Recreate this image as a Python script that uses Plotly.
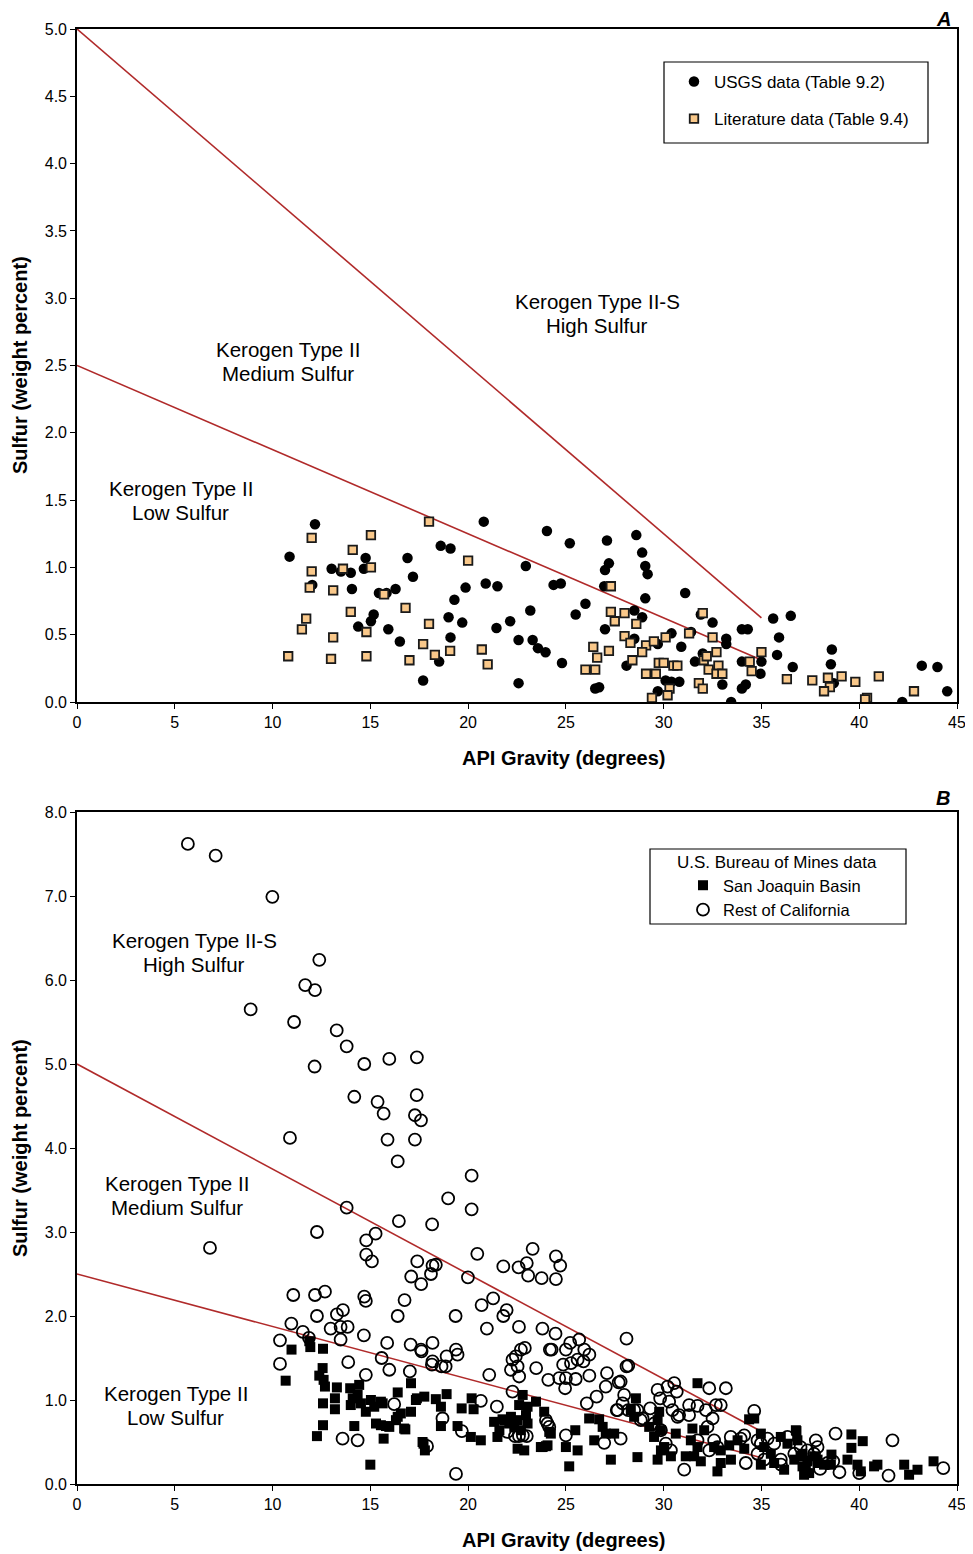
import plotly.graph_objects as go

# ---------------- Panel A data ----------------
usgs_api = [10.87, 12.17, 12.03, 13.02, 13.5, 14.0, 14.76, 14.67, 14.06, 15.44, 15.83, 16.29, 16.9, 17.18,
            15.17, 15.03, 14.38, 15.92, 16.51, 17.7, 18.52, 18.6, 19.1, 20.8, 19.87, 19.3, 20.9, 21.5,
            19.0, 19.7, 19.1, 21.45, 22.15, 22.58, 22.58, 24.03, 25.2, 27.1, 28.6, 28.9, 29.06, 29.18,
            27.2, 27.0, 22.95, 24.37, 24.74, 26.96, 29.06, 31.1, 26.0, 25.5, 23.18, 23.3, 23.57, 23.96,
            24.8, 26.5, 26.7, 28.1, 27.0, 28.5, 28.9, 28.5, 29.7, 30.4, 30.9, 31.4, 31.9, 32.5, 33.2,
            33.2, 34.0, 34.3, 31.6, 32.0, 34.0, 29.7, 30.1, 30.4, 30.8, 33.0, 34.0, 34.2, 33.45, 35.6,
            36.5, 35.9, 35.8, 35.0, 34.95, 36.6, 38.6, 38.55, 38.7, 43.2, 44.0, 44.5, 42.2]
usgs_s = [1.08, 1.32, 0.87, 0.99, 0.97, 0.96, 1.07, 0.99, 0.84, 0.81, 0.81, 0.84, 1.07, 0.93,
          0.65, 0.60, 0.56, 0.54, 0.45, 0.16, 0.30, 1.16, 1.14, 1.34, 0.85, 0.76, 0.88, 0.86,
          0.63, 0.59, 0.48, 0.55, 0.60, 0.46, 0.14, 1.27, 1.18, 1.20, 1.24, 1.11, 1.01, 0.95,
          1.03, 0.98, 1.01, 0.87, 0.88, 0.86, 0.77, 0.81, 0.73, 0.65, 0.68, 0.46, 0.40, 0.37,
          0.29, 0.10, 0.11, 0.27, 0.54, 0.68, 0.63, 0.47, 0.43, 0.51, 0.41, 0.52, 0.65, 0.59, 0.47,
          0.43, 0.54, 0.54, 0.30, 0.36, 0.30, 0.08, 0.16, 0.15, 0.15, 0.13, 0.10, 0.13, 0.0, 0.62,
          0.64, 0.48, 0.35, 0.30, 0.21, 0.26, 0.39, 0.28, 0.14, 0.27, 0.26, 0.08, 0.0]

lit_api = [12.0, 15.03, 18.0, 14.1, 12.0, 13.6, 15.03, 11.9, 13.1, 15.7, 20.0, 14.0, 16.8, 11.72, 11.5,
           13.1, 14.8, 18.0, 17.7, 18.3, 19.08, 17.0, 10.8, 12.99, 14.8, 20.7, 21.0, 27.3, 27.3, 27.5,
           28.0, 28.6, 28.0, 28.3, 29.1, 29.5, 30.1, 28.9, 26.4, 27.2, 26.6, 28.4, 26.0, 26.5, 29.75,
           30.0, 30.5, 30.7, 29.1, 29.6, 30.3, 30.2, 29.4, 31.3, 32.0, 32.5, 32.7, 32.05, 32.2, 32.8,
           32.3, 32.7, 33.0, 31.8, 32.0, 34.4, 34.5, 35.0, 36.3, 37.6, 38.4, 38.5, 38.2, 39.1, 39.8,
           41.0, 40.4, 40.3, 42.8]
lit_s = [1.22, 1.24, 1.34, 1.13, 0.97, 0.99, 1.00, 0.85, 0.83, 0.80, 1.05, 0.67, 0.70, 0.62, 0.54,
         0.48, 0.52, 0.58, 0.43, 0.35, 0.38, 0.31, 0.34, 0.32, 0.34, 0.39, 0.28, 0.86, 0.67, 0.60,
         0.66, 0.58, 0.49, 0.44, 0.42, 0.45, 0.48, 0.37, 0.41, 0.38, 0.33, 0.31, 0.24, 0.24, 0.29,
         0.29, 0.27, 0.27, 0.21, 0.21, 0.10, 0.05, 0.03, 0.51, 0.66, 0.48, 0.37, 0.31, 0.34, 0.27,
         0.24, 0.21, 0.21, 0.14, 0.10, 0.30, 0.23, 0.37, 0.17, 0.16, 0.18, 0.11, 0.08, 0.19, 0.15,
         0.19, 0.03, 0.02, 0.08]

# ---------------- Panel B data ----------------
rest_api = [5.67, 7.09, 9.99, 12.39, 11.67, 12.17, 8.88, 11.1, 13.28, 13.79, 12.15, 14.69, 15.97, 17.38,
            14.18, 15.37, 15.68, 17.37, 17.28, 17.59, 15.88, 17.28, 10.89, 16.4, 6.8, 20.18, 18.98, 20.18,
            13.79, 16.46, 18.16, 12.27, 15.27, 14.79, 14.79, 15.08, 20.47, 17.4, 18.18, 18.35, 18.1, 17.09,
            17.6, 19.99, 21.8, 22.58, 23.0, 23.07, 23.3, 23.76, 24.49, 24.71, 24.49, 11.06, 12.17, 12.68,
            14.69, 14.77, 16.75, 16.4, 12.27, 13.29, 13.6, 19.36, 20.69, 21.28, 21.8, 21.97, 20.96, 22.6,
            23.8, 24.47, 10.96, 11.55, 11.86, 12.97, 13.48, 13.84, 13.48, 14.67, 10.38, 10.38, 13.87, 14.77,
            15.86, 15.58, 15.97, 17.02, 17.06, 17.59, 17.62, 18.18, 18.18, 18.15, 18.64, 18.85, 18.9, 19.38,
            19.46, 21.08, 20.65, 21.47, 16.22, 18.69, 19.68, 13.58, 14.35, 17.9, 19.38, 22.27, 22.19, 22.53,
            22.7, 22.44, 22.61, 22.27, 22.9, 23.48, 24.1, 24.18, 22.0, 22.4, 22.6, 22.8, 23.0, 24.06, 24.27,
            25.0, 25.22, 25.68, 25.94, 26.2, 25.6, 25.9, 25.26, 24.86, 24.66, 25.0, 25.5, 26.2, 24.96, 27.1,
            27.04, 27.7, 27.98, 26.57, 26.07, 28.1, 28.1, 27.6, 27.9, 25.0, 26.96, 27.8, 23.98, 24.15, 28.49,
            28.92, 29.31, 29.69, 29.82, 30.2, 30.54, 30.67, 30.28, 30.45, 30.79, 31.3, 31.3, 31.73, 32.16,
            32.5, 32.67, 32.92, 32.33, 33.18, 34.63, 31.05, 32.58, 33.43, 33.94, 34.8, 35.31, 36.33, 37.78,
            32.75, 34.2, 31.73, 32.33, 29.51, 29.86, 30.11, 30.37, 27.64, 28.19, 28.66, 28.83, 30.71, 32.24,
            34.12, 34.97, 34.8, 35.14, 35.65, 35.99, 36.68, 37.0, 37.35, 37.69, 37.87, 38.38, 38.79, 41.7,
            44.3, 41.5, 40.0, 38.99, 38.0, 38.67, 28.19, 27.8, 36.0]
rest_s = [7.62, 7.48, 6.99, 6.24, 5.94, 5.88, 5.65, 5.50, 5.40, 5.21, 4.97, 5.00, 5.06, 5.08,
          4.61, 4.55, 4.41, 4.63, 4.39, 4.33, 4.10, 4.10, 4.12, 3.84, 2.81, 3.67, 3.40, 3.27,
          3.29, 3.13, 3.09, 3.00, 2.98, 2.90, 2.73, 2.65, 2.74, 2.65, 2.60, 2.61, 2.50, 2.47,
          2.38, 2.46, 2.59, 2.58, 2.63, 2.48, 2.80, 2.45, 2.71, 2.60, 2.44, 2.25, 2.25, 2.29,
          2.23, 2.18, 2.19, 2.00, 2.00, 2.02, 2.07, 2.00, 2.13, 2.21, 2.00, 2.07, 1.85, 1.87,
          1.85, 1.79, 1.91, 1.81, 1.74, 1.85, 1.87, 1.87, 1.72, 1.77, 1.71, 1.43, 1.45, 1.30,
          1.68, 1.50, 1.36, 1.34, 1.66, 1.60, 1.58, 1.68, 1.46, 1.42, 1.40, 1.40, 1.52, 1.60,
          1.54, 1.30, 0.99, 0.92, 0.95, 0.78, 0.63, 0.54, 0.52, 0.45, 0.12, 1.48, 1.36, 1.40,
          1.60, 1.52, 1.28, 1.10, 1.62, 1.38, 1.24, 1.60, 0.62, 0.57, 0.57, 0.58, 0.57, 0.72, 1.60,
          1.60, 1.68, 1.72, 1.60, 1.54, 1.48, 1.46, 1.44, 1.42, 1.26, 1.26, 1.25, 1.29, 1.14, 1.32,
          1.16, 1.21, 1.06, 1.04, 0.96, 1.40, 1.73, 0.88, 0.96, 0.58, 0.49, 0.54, 0.76, 0.68, 0.88,
          0.78, 0.90, 1.12, 1.02, 1.16, 1.20, 1.10, 0.98, 0.88, 0.82, 0.94, 0.82, 0.93, 0.88,
          0.78, 0.94, 0.94, 1.14, 1.14, 0.87, 0.17, 0.52, 0.56, 0.54, 0.52, 0.54, 0.56, 0.52,
          0.44, 0.25, 0.52, 0.40, 0.72, 0.64, 0.48, 0.40, 0.88, 0.88, 0.88, 0.76, 0.80, 0.68,
          0.58, 0.48, 0.36, 0.29, 0.48, 0.29, 0.36, 0.44, 0.40, 0.36, 0.44, 0.25, 0.60, 0.52,
          0.19, 0.10, 0.13, 0.14, 0.18, 0.27, 1.41, 1.22, 0.23]

sj_api = [10.97, 10.67, 11.88, 11.93, 12.58, 12.56, 12.39, 12.61, 12.68, 13.29, 12.58, 13.19, 13.19, 13.97,
          14.43, 14.35, 14.0, 14.52, 14.1, 12.58, 12.27, 14.18, 14.77, 15.03, 15.2, 15.63, 15.29, 15.8,
          16.4, 17.08, 16.4, 16.56, 16.79, 15.68, 15.0, 17.08, 17.38, 17.76, 18.35, 18.61, 18.9, 18.61,
          17.72, 17.79, 19.46, 19.67, 20.18, 20.28, 20.14, 20.65, 21.33, 21.6, 21.85, 22.19, 22.36, 22.7,
          23.04, 22.79, 23.04, 23.47, 23.89, 23.72, 24.06, 22.53, 22.87, 21.5, 21.76, 22.1, 22.53, 22.96,
          22.61, 23.81, 24.15, 25.17, 25.48, 25.0, 25.6, 26.19, 26.7, 26.88, 26.45, 27.3, 27.47, 15.54,
          15.54, 15.97, 16.31, 16.73, 17.33, 17.67, 24.23, 23.98, 27.04, 28.66, 29.86, 31.73, 28.58, 28.49,
          28.32, 29.26, 29.77, 29.69, 29.86, 29.51, 30.03, 30.37, 30.62, 29.69, 31.13, 31.56, 31.9, 31.47,
          31.39, 32.07, 31.73, 34.37, 34.63, 32.58, 32.92, 33.35, 33.78, 34.12, 34.97, 35.14, 35.48, 35.99,
          36.33, 36.76, 36.84, 37.1, 37.1, 37.27, 37.69, 37.44, 37.87, 32.92, 32.75, 33.44, 35.65, 34.97,
          36.16, 36.79, 39.6, 40.18, 39.6, 38.58, 38.2, 39.4, 39.91, 40.08, 40.76, 40.93, 42.3, 42.55,
          42.98, 43.8, 38.55, 37.18, 36.68, 37.0, 37.35, 37.87]
sj_s = [1.60, 1.23, 1.70, 1.63, 1.61, 1.38, 1.29, 1.24, 1.16, 1.15, 0.96, 1.02, 0.89, 1.14,
        1.18, 1.06, 0.94, 0.96, 1.02, 0.70, 0.57, 0.69, 0.86, 1.00, 0.92, 0.96, 0.72, 0.69,
        1.09, 1.20, 0.80, 0.84, 0.65, 0.54, 0.23, 0.86, 1.02, 1.04, 1.01, 0.92, 1.07, 0.69,
        0.48, 0.40, 0.69, 0.90, 1.02, 0.89, 0.56, 0.52, 0.74, 0.64, 0.76, 0.80, 0.68, 0.64,
        0.72, 1.06, 0.92, 0.98, 0.86, 0.44, 0.46, 0.42, 0.40, 0.56, 0.77, 0.72, 0.76, 0.82,
        0.94, 0.44, 0.62, 0.21, 0.64, 0.44, 0.40, 0.78, 0.77, 0.68, 0.52, 0.29, 0.60, 0.98,
        0.70, 0.68, 0.76, 0.66, 1.00, 0.50, 0.60, 0.45, 0.60, 0.32, 0.40, 0.44, 1.02, 0.80,
        0.88, 0.68, 0.86, 0.76, 0.64, 0.56, 0.44, 0.33, 0.60, 0.29, 0.33, 0.33, 0.27, 0.66,
        0.52, 0.64, 1.20, 0.77, 0.78, 0.44, 0.40, 0.46, 0.52, 0.42, 0.60, 0.44, 0.36, 0.56,
        0.48, 0.64, 0.52, 0.36, 0.21, 0.17, 0.33, 0.13, 0.25, 0.25, 0.15, 0.29, 0.25, 0.23,
        0.17, 0.63, 0.59, 0.51, 0.43, 0.35, 0.23, 0.29, 0.23, 0.15, 0.21, 0.23, 0.23, 0.11,
        0.17, 0.27, 0.23, 0.11, 0.29, 0.33, 0.27, 0.29]

# Kerogen-type boundary lines (API gravity vs. sulfur)
boundary_api = [0, 35]
high_boundary_s = [5.0, 0.625]
low_boundary_s = [2.5, 0.3125]

xticks = [0, 5, 10, 15, 20, 25, 30, 35, 40, 45]
yticks_a = [0.0, 0.5, 1.0, 1.5, 2.0, 2.5, 3.0, 3.5, 4.0, 4.5, 5.0]
yticks_b = [0.0, 1.0, 2.0, 3.0, 4.0, 5.0, 6.0, 7.0, 8.0]

FONT = "Arial, Liberation Sans, sans-serif"
LINE_RED = "#B02A2A"

# page-pixel -> paper helpers (plot area spans 77..957 px horizontally, 29..1484 px vertically)
def px(xp):
    return (xp - 77) / 880

def py(yp):
    return (1484 - yp) / 1455

fig = go.Figure()

# Panel A
for ys in (high_boundary_s, low_boundary_s):
    fig.add_trace(go.Scatter(x=boundary_api, y=ys, mode="lines", line=dict(color=LINE_RED, width=1.6),
                             showlegend=False, hoverinfo="skip", xaxis="x", yaxis="y"))
fig.add_trace(go.Scatter(x=usgs_api, y=usgs_s, mode="markers", name="USGS data (Table 9.2)",
                         marker=dict(symbol="circle", size=10.5, color="black", line=dict(width=0)),
                         xaxis="x", yaxis="y", legend="legend", legendgroup="a1"))
fig.add_trace(go.Scatter(x=lit_api, y=lit_s, mode="markers", name="Literature data (Table 9.4)",
                         marker=dict(symbol="square", size=8.5, color="#F9C88A",
                                     line=dict(width=1.8, color="#1a1a1a")),
                         xaxis="x", yaxis="y", legend="legend", legendgroup="a2"))

# Panel B
for ys in (high_boundary_s, low_boundary_s):
    fig.add_trace(go.Scatter(x=boundary_api, y=ys, mode="lines", line=dict(color=LINE_RED, width=1.6),
                             showlegend=False, hoverinfo="skip", xaxis="x2", yaxis="y2"))
fig.add_trace(go.Scatter(x=rest_api, y=rest_s, mode="markers", name="Rest of California",
                         marker=dict(symbol="circle-open", size=12, color="black", line=dict(width=1.8)),
                         xaxis="x2", yaxis="y2", legend="legend2", legendrank=2))
fig.add_trace(go.Scatter(x=sj_api, y=sj_s, mode="markers", name="San Joaquin Basin",
                         marker=dict(symbol="square", size=10, color="black", line=dict(width=0)),
                         xaxis="x2", yaxis="y2", legend="legend2", legendrank=1))

axis_common = dict(showline=True, linecolor="black", linewidth=1.6, mirror=True, ticks="outside",
                   ticklen=5, tickwidth=1.4, tickcolor="black", showgrid=False, zeroline=False,
                   automargin=False, tickfont=dict(family=FONT, size=16, color="black"))

fig.update_layout(
    width=965, height=1546,
    margin=dict(l=69, r=16, t=21, b=70, autoexpand=False),
    paper_bgcolor="white", plot_bgcolor="white",
    font=dict(family=FONT, color="black"),
    xaxis=dict(domain=[0, 1], range=[0, 45], tickvals=xticks, anchor="y", **axis_common),
    yaxis=dict(domain=[py(702), 1], range=[0, 5], tickvals=yticks_a, tickformat=".1f", anchor="x",
               **axis_common),
    xaxis2=dict(domain=[0, 1], range=[0, 45], tickvals=xticks, anchor="y2", **axis_common),
    yaxis2=dict(domain=[0, py(812)], range=[0, 8], tickvals=yticks_b, tickformat=".1f", anchor="x2",
                **axis_common),
    legend=dict(x=px(674), y=py(64), xanchor="left", yanchor="top",
                borderwidth=0, bgcolor="rgba(0,0,0,0)",
                font=dict(family=FONT, size=17, color="black"),
                traceorder="grouped", tracegroupgap=12, itemwidth=30),
    legend2=dict(x=px(683), y=py(868), xanchor="left", yanchor="top",
                 borderwidth=0, bgcolor="rgba(0,0,0,0)", tracegroupgap=0,
                 font=dict(family=FONT, size=16.5, color="black")),
)

# Legend frames and the panel-B legend heading
fig.add_shape(type="rect", xref="paper", yref="paper", x0=px(664), x1=px(928), y0=py(143), y1=py(62),
              line=dict(color="black", width=1.2), fillcolor="rgba(0,0,0,0)", layer="above")
fig.add_shape(type="rect", xref="paper", yref="paper", x0=px(650), x1=px(906), y0=py(924), y1=py(849),
              line=dict(color="black", width=1.2), fillcolor="rgba(0,0,0,0)", layer="above")
fig.add_annotation(x=px(777), y=py(862), xref="paper", yref="paper", text="U.S. Bureau of Mines data",
                   showarrow=False, xanchor="center", yanchor="middle",
                   font=dict(family=FONT, size=17, color="black"))

ann_font = dict(family=FONT, size=20.5, color="black")
title_font = dict(family=FONT, size=20, color="black")
region_labels = [
    ("x", "y", 26.6, 2.89, "Kerogen Type II-S", "High Sulfur"),
    ("x", "y", 10.8, 2.53, "Kerogen Type II", "Medium Sulfur"),
    ("x", "y", 5.3, 1.50, "Kerogen Type II", "Low Sulfur"),
    ("x2", "y2", 6.0, 6.33, "Kerogen Type II-S", "High Sulfur"),
    ("x2", "y2", 5.1, 3.44, "Kerogen Type II", "Medium Sulfur"),
    ("x2", "y2", 5.05, 0.93, "Kerogen Type II", "Low Sulfur"),
]
for xr, yr, xv, yv, l1, l2 in region_labels:
    fig.add_annotation(x=xv, y=yv, xref=xr, yref=yr, text=l1, yshift=12, showarrow=False,
                       xanchor="center", yanchor="middle", font=ann_font)
    fig.add_annotation(x=xv, y=yv, xref=xr, yref=yr, text=l2, yshift=-12, showarrow=False,
                       xanchor="center", yanchor="middle", font=ann_font)

# Axis titles
for yp in (758, 1540):
    fig.add_annotation(x=px(563), y=py(yp), xref="paper", yref="paper", xanchor="center", yanchor="middle",
                       text="<b>API Gravity (degrees)</b>", showarrow=False, font=title_font)
for yp in (365, 1148):
    fig.add_annotation(x=px(20), y=py(yp), xref="paper", yref="paper", xanchor="center", yanchor="middle",
                       text="<b>Sulfur (weight percent)</b>", showarrow=False, textangle=-90, font=title_font)
# Panel letters
for letter, yp in (("A", 19), ("B", 798)):
    fig.add_annotation(x=px(943), y=py(yp), xref="paper", yref="paper", xanchor="center", yanchor="middle",
                       text="<b><i>%s</i></b>" % letter, showarrow=False,
                       font=dict(family=FONT, size=20, color="black"))

fig.write_html("out.html")
